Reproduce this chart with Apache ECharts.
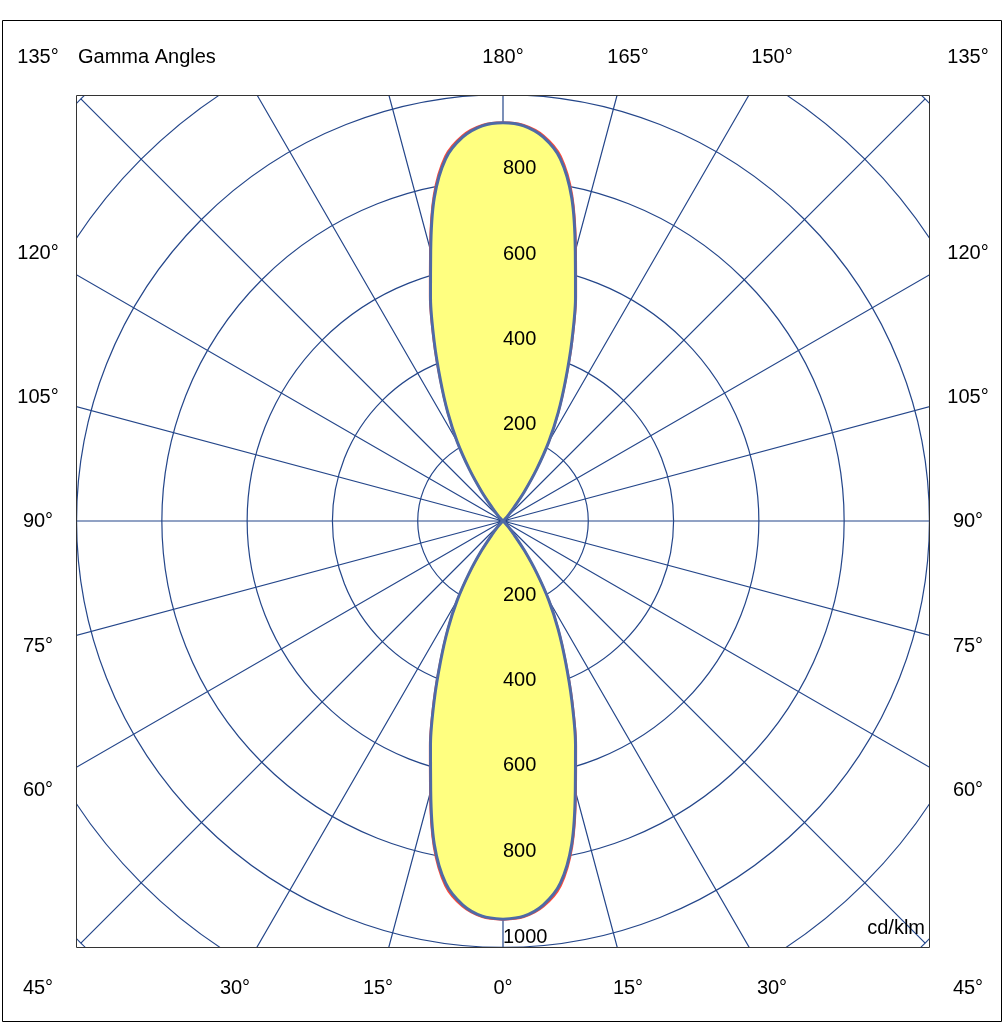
<!DOCTYPE html>
<html><head><meta charset="utf-8">
<script src="https://cdn.jsdelivr.net/npm/echarts@6/dist/echarts.min.js"></script>
<style>html,body{margin:0;padding:0;background:#fff}#c{width:1006px;height:1024px}</style>
</head><body><div id="c"></div>
<script>
const gammaAngles = [0,3,6,9,12,15,18,21,24,27,30,33,36,39,42,45,48,51,60,90,120,129,132,135,138,141,144,147,150,153,156,159,162,165,168,171,174,177,180];
const blueValues  = [934,928,905,860,775,655,550,450,360,285,215,145,85,40,18,8,3,0,0,0,0,0,3,8,18,40,85,145,215,285,360,450,550,655,775,860,905,928,934];
const redValues   = [935,930,909,866,781,661,555,454,363,287,217,146,86,40,18,8,3,0,0,0,0,0,3,8,18,40,86,146,217,287,363,454,555,661,781,866,909,930,935];
const ringLabels = [200,400,600,800];
const topTicks = ['180°','165°','150°'];
const sideTicks = ['120°','105°','90°','75°','60°'];
const bottomTicks = ['30°','15°','0°','15°','30°'];

function loop(vals){
  const pts=[];
  for(let i=0;i<gammaAngles.length;i++) pts.push([vals[i],gammaAngles[i]]);
  for(let i=gammaAngles.length-1;i>=0;i--) pts.push([vals[i],360-gammaAngles[i]]);
  return pts;
}
const cx=503, cy=521, R=597, RMAX=1400;
const s = R/RMAX;
const font='"Liberation Sans", Arial, sans-serif';
const fs='20px ';
const g=[];
const mask='#fff';
g.push({type:'rect',shape:{x:0,y:0,width:1006,height:95},style:{fill:mask},z:100,silent:true});
g.push({type:'rect',shape:{x:0,y:948,width:1006,height:76},style:{fill:mask},z:100,silent:true});
g.push({type:'rect',shape:{x:0,y:0,width:76,height:1024},style:{fill:mask},z:100,silent:true});
g.push({type:'rect',shape:{x:930,y:0,width:76,height:1024},style:{fill:mask},z:100,silent:true});
g.push({type:'rect',shape:{x:2.5,y:20.5,width:999,height:1001},style:{fill:null,stroke:'#000',lineWidth:1},z:101});
g.push({type:'rect',shape:{x:76.5,y:95.5,width:853,height:852},style:{fill:null,stroke:'#333',lineWidth:1},z:101});
function txt(t,x,y,align){g.push({type:'text',x:x,y:y,style:{text:t,font:fs+font,fill:'#000',align:align||'center',verticalAlign:'middle'},z:102});}
txt('135°',38,57); txt('135°',968,57); txt('Gamma Angles',78,57,'left');
[503,628,772].forEach((x,i)=>txt(topTicks[i],x,57));
[253,397,521,646,790].forEach((y,i)=>{txt(sideTicks[i],38,y);txt(sideTicks[i],968,y);});
txt('45°',38,988); txt('45°',968,988);
[235,378,503,628,772].forEach((x,i)=>txt(bottomTicks[i],x,988));
txt('cd/klm',925,928,'right');
ringLabels.forEach(v=>{
  g.push({type:'text',x:503,y:cy-v*s-11,style:{text:String(v),font:fs+font,fill:'#000',align:'left',verticalAlign:'middle'},z:50});
  g.push({type:'text',x:503,y:cy+v*s-11,style:{text:String(v),font:fs+font,fill:'#000',align:'left',verticalAlign:'middle'},z:50});
});
g.push({type:'text',x:503,y:cy+1000*s-10,style:{text:'1000',font:fs+font,fill:'#000',align:'left',verticalAlign:'middle'},z:102});

const chart=echarts.init(document.getElementById('c'));
chart.setOption({
  animation:false,
  polar:{center:[cx,cy],radius:R},
  angleAxis:{type:'value',min:0,max:360,interval:15,startAngle:270,clockwise:false,
    axisLine:{show:false},axisTick:{show:false},axisLabel:{show:false},
    splitLine:{show:true,lineStyle:{color:'#24468a',width:1.2}}},
  radiusAxis:{type:'value',min:0,max:RMAX,interval:200,
    axisLine:{show:false},axisTick:{show:false},axisLabel:{show:false},
    splitLine:{show:true,lineStyle:{color:'#24468a',width:1.2}}},
  graphic:g,
  series:[
    {type:'line',coordinateSystem:'polar',data:loop(redValues),symbol:'none',z:3,smooth:0.3,
      lineStyle:{color:'#ff4a3a',width:2},areaStyle:{color:'#ffff80',opacity:1}},
    {type:'line',coordinateSystem:'polar',data:loop(blueValues),symbol:'none',z:4,smooth:0.3,
      lineStyle:{color:'#4f6aa6',width:3}}
  ]
});
</script></body></html>
